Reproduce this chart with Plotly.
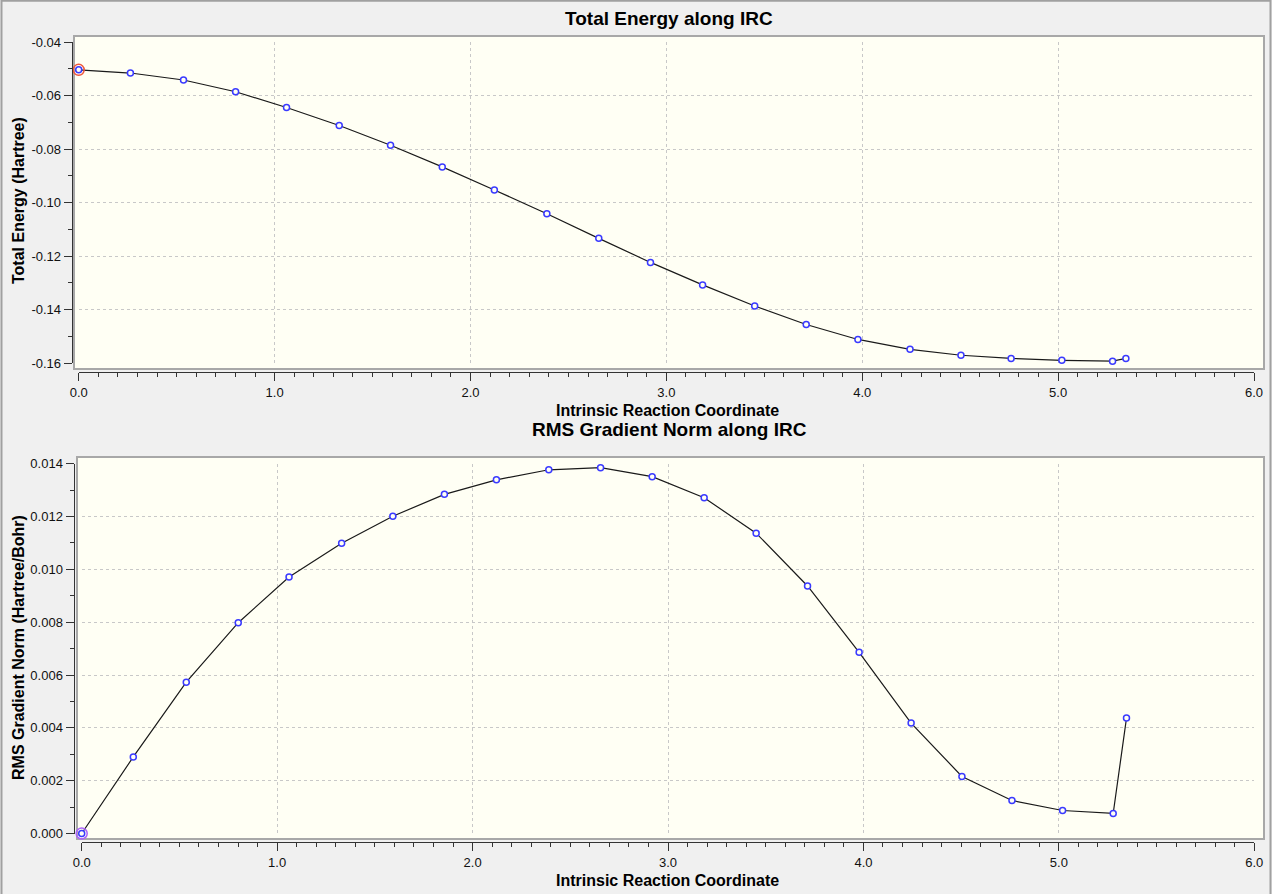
import plotly.graph_objects as go

# IRC data
irc = [0.0, 0.264, 0.535, 0.801, 1.061, 1.330, 1.592, 1.856, 2.122, 2.390, 2.655,
       2.919, 3.185, 3.451, 3.714, 3.978, 4.244, 4.504, 4.760, 5.019, 5.278, 5.346]
energy = [-0.0504, -0.0516, -0.0542, -0.0586, -0.0645, -0.0712, -0.0786, -0.0867,
          -0.0953, -0.1042, -0.1134, -0.1224, -0.1308, -0.1387, -0.1456, -0.1512,
          -0.1549, -0.1571, -0.1583, -0.1590, -0.1593, -0.1583]
rms_grad = [0.0, 0.00290, 0.00573, 0.00798, 0.00971, 0.01099, 0.01201, 0.01284,
            0.01339, 0.01377, 0.01385, 0.01351, 0.01271, 0.01137, 0.00937, 0.00686,
            0.00418, 0.00216, 0.00125, 0.00087, 0.00076, 0.00437]

x_ticks = [0, 1, 2, 3, 4, 5, 6]
x_labels = ["0.0", "1.0", "2.0", "3.0", "4.0", "5.0", "6.0"]
e_ticks = [-0.04, -0.06, -0.08, -0.10, -0.12, -0.14, -0.16]
e_labels = ["-0.04", "-0.06", "-0.08", "-0.10", "-0.12", "-0.14", "-0.16"]
g_ticks = [0.0, 0.002, 0.004, 0.006, 0.008, 0.010, 0.012, 0.014]
g_labels = ["0.000", "0.002", "0.004", "0.006", "0.008", "0.010", "0.012", "0.014"]

FONT = "Liberation Sans, Arial, sans-serif"
W, H = 1272, 894


def px(v):
    # window pixel -> paper fraction
    return v / W


def py(v):
    return 1 - v / H


def curve(x, y, xa, ya):
    line = go.Scatter(x=x, y=y, xaxis=xa, yaxis=ya, mode="lines+markers",
                      line=dict(color="#1a1a1a", width=1.2),
                      marker=dict(symbol="circle", size=6, color="#fffff4",
                                  line=dict(color="#3a3aff", width=1.5)),
                      cliponaxis=False, showlegend=False, hoverinfo="x+y")
    start = go.Scatter(x=x[:1], y=y[:1], xaxis=xa, yaxis=ya, mode="markers",
                       marker=dict(symbol="circle-open", size=11,
                                   line=dict(color="rgba(255,60,60,0.85)", width=1.5)),
                       cliponaxis=False, showlegend=False, hoverinfo="skip")
    return [line, start]


fig = go.Figure(curve(irc, energy, "x", "y") + curve(irc, rms_grad, "x2", "y2"))

axis_style = dict(showgrid=True, gridcolor="#c8c8c8", gridwidth=1, griddash="3px,3px",
                  zeroline=False, showline=True, linecolor="#333333", linewidth=1,
                  ticks="outside", ticklen=8, tickcolor="#333333",
                  tickfont=dict(family=FONT, size=13, color="#111111"),
                  anchor="free", automargin=False, fixedrange=True)

fig.update_layout(
    width=W, height=H,
    margin=dict(l=0, r=0, t=0, b=0, autoexpand=False),
    paper_bgcolor="#f0f0f0",
    plot_bgcolor="rgba(0,0,0,0)",
    font=dict(family=FONT, color="#000000"),
    xaxis=dict(axis_style, domain=[px(78.7), px(1254)], range=[0, 6], position=py(372),
               tickvals=x_ticks, ticktext=x_labels,
               minor=dict(dtick=0.1, tick0=0, ticklen=4, ticks="outside",
                          tickcolor="#333333", showgrid=False)),
    yaxis=dict(axis_style, domain=[py(363), py(42)], range=[-0.16, -0.04], position=px(71.7),
               tickvals=e_ticks, ticktext=e_labels,
               minor=dict(dtick=0.01, tick0=-0.04, ticklen=4, ticks="outside",
                          tickcolor="#333333", showgrid=False)),
    xaxis2=dict(axis_style, domain=[px(81.7), px(1254.3)], range=[0, 6], position=py(842),
                tickvals=x_ticks, ticktext=x_labels,
                minor=dict(dtick=0.1, tick0=0, ticklen=4, ticks="outside",
                           tickcolor="#333333", showgrid=False)),
    yaxis2=dict(axis_style, domain=[py(833.5), py(463.7)], range=[0, 0.014], position=px(73.5),
                tickvals=g_ticks, ticktext=g_labels,
                minor=dict(dtick=0.001, tick0=0, ticklen=4, ticks="outside",
                           tickcolor="#333333", showgrid=False)),
)

# ivory plot panels with grey frames, plus the window border
fig.add_shape(type="rect", xref="paper", yref="paper", layer="below",
              x0=px(74), x1=px(1264), y0=py(369), y1=py(36),
              fillcolor="#fffff4", line=dict(color="#a8a8a8", width=2))
fig.add_shape(type="rect", xref="paper", yref="paper", layer="below",
              x0=px(77), x1=px(1264), y0=py(839), y1=py(457),
              fillcolor="#fffff4", line=dict(color="#a8a8a8", width=2))
fig.add_shape(type="rect", xref="paper", yref="paper", layer="below",
              x0=px(1.5), x1=px(1270.5), y0=-0.01, y1=py(0.8),
              line=dict(color="#a0a0a0", width=2))

titles = [
    ("Total Energy along IRC", 669, 18.5, 0, 19),
    ("RMS Gradient Norm along IRC", 669, 430, 0, 19),
    ("Intrinsic Reaction Coordinate", 667, 410.5, 0, 16),
    ("Intrinsic Reaction Coordinate", 667, 880.5, 0, 16),
    ("Total Energy (Hartree)", 18, 201, -90, 16),
    ("RMS Gradient Norm (Hartree/Bohr)", 18, 648, -90, 16),
]
for text, tx, ty, ang, size in titles:
    fig.add_annotation(text=text, xref="paper", yref="paper", x=px(tx), y=py(ty),
                       xanchor="center", yanchor="middle", textangle=ang,
                       showarrow=False,
                       font=dict(family=FONT, size=size, color="#000000", weight="bold"))

fig.write_html("out.html", config={"displayModeBar": False},
               post_script="document.body.style.margin='0';document.body.style.overflow='hidden';")
